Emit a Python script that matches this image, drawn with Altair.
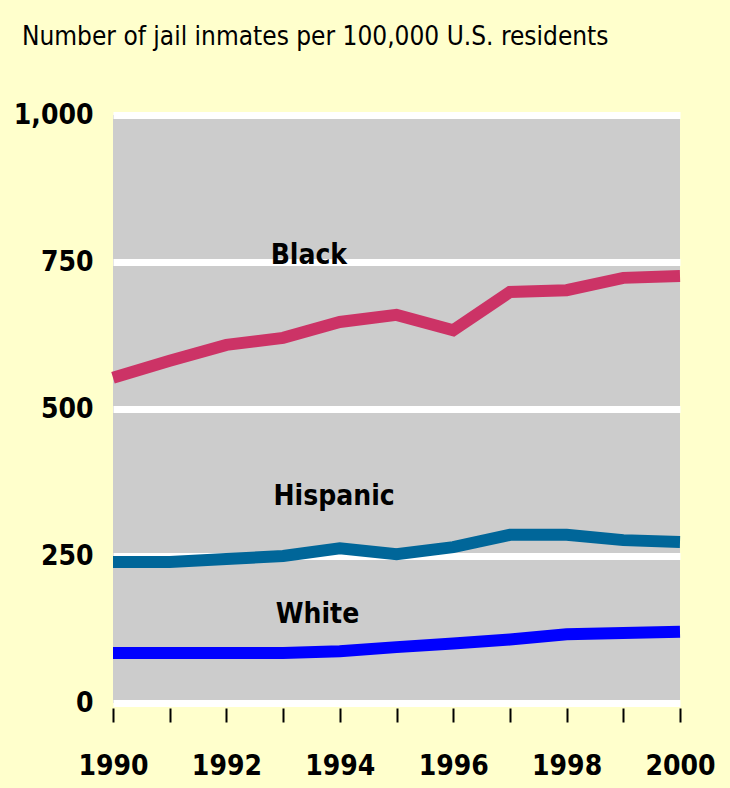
import altair as alt
import pandas as pd

years = list(range(1990, 2001))
black = [553, 582, 609, 621, 648, 660, 634, 699, 702, 723, 726]
hispanic = [240, 240, 245, 250, 263, 253, 265, 286, 286, 277, 274]
white = [85, 85, 85, 85, 88, 95, 101, 108, 117, 119, 121]
series = ["Black", "Hispanic", "White"]
colors = ["#CC3366", "#006699", "#0000FF"]
label_x = [1992.78, 1992.83, 1992.87]
label_y = [746, 337, 136]
y_ticks = [0, 250, 500, 750, 1000]
x_ticks = years
title_text = "Number of jail inmates per 100,000 U.S. residents"

rows = []
for name, vals in zip(series, [black, hispanic, white]):
    for yr, v in zip(years, vals):
        rows.append({"year": yr, "rate": v, "series": name})
df = pd.DataFrame(rows)
labels = pd.DataFrame({"series": series, "x": label_x, "y": label_y})

FONT = "DejaVu Sans Condensed, sans-serif"
FS = 28

xscale = alt.Scale(domain=[1990, 2000], nice=False, zero=False)
yscale = alt.Scale(domain=[0, 1000], nice=False)

xaxis = alt.Axis(
    values=x_ticks, format="d",
    labelExpr="datum.value % 2 == 0 ? datum.label : ''",
    grid=False, domain=False, ticks=True, tickSize=14, tickWidth=2,
    tickColor="black", offset=5, labelBaseline="top", labelPadding=30,
    labelFlush=False, labelOverlap=False, labelBound=False, title=None,
    labelFont=FONT, labelFontSize=FS, labelFontWeight="bold", labelColor="black",
)
yaxis = alt.Axis(
    values=y_ticks, format=",d", grid=True, gridColor="white", gridWidth=7,
    gridOpacity=1, domain=False, ticks=False, labelPadding=20, title=None,
    labelFont=FONT, labelFontSize=FS, labelFontWeight="bold", labelColor="black",
)

lines = alt.Chart(df).mark_line(strokeWidth=12, strokeCap="butt").encode(
    x=alt.X("year:Q", scale=xscale, axis=xaxis),
    y=alt.Y("rate:Q", scale=yscale, axis=yaxis),
    color=alt.Color("series:N", scale=alt.Scale(domain=series, range=colors), legend=None),
)

texts = alt.Chart(labels).mark_text(
    align="left", baseline="alphabetic", font=FONT, fontSize=FS,
    fontWeight="bold", color="black",
).encode(
    x=alt.X("x:Q", scale=xscale),
    y=alt.Y("y:Q", scale=yscale),
    text="series:N",
)

chart = alt.layer(lines, texts).properties(
    width=567, height=588,
    autosize=alt.AutoSizeParams(type="none"),
    padding={"left": 113, "top": 115, "right": 50, "bottom": 85},
    background="#FFFFCC",
    title=alt.TitleParams(
        text=title_text, anchor="start", frame="group", dx=-91, offset=30,
        baseline="alphabetic", font=FONT, fontSize=26, fontWeight="normal",
        color="black",
    ),
).configure_view(fill="#CCCCCC", strokeWidth=0)

chart.save("out.html", embed_options={"renderer": "svg", "actions": False})
